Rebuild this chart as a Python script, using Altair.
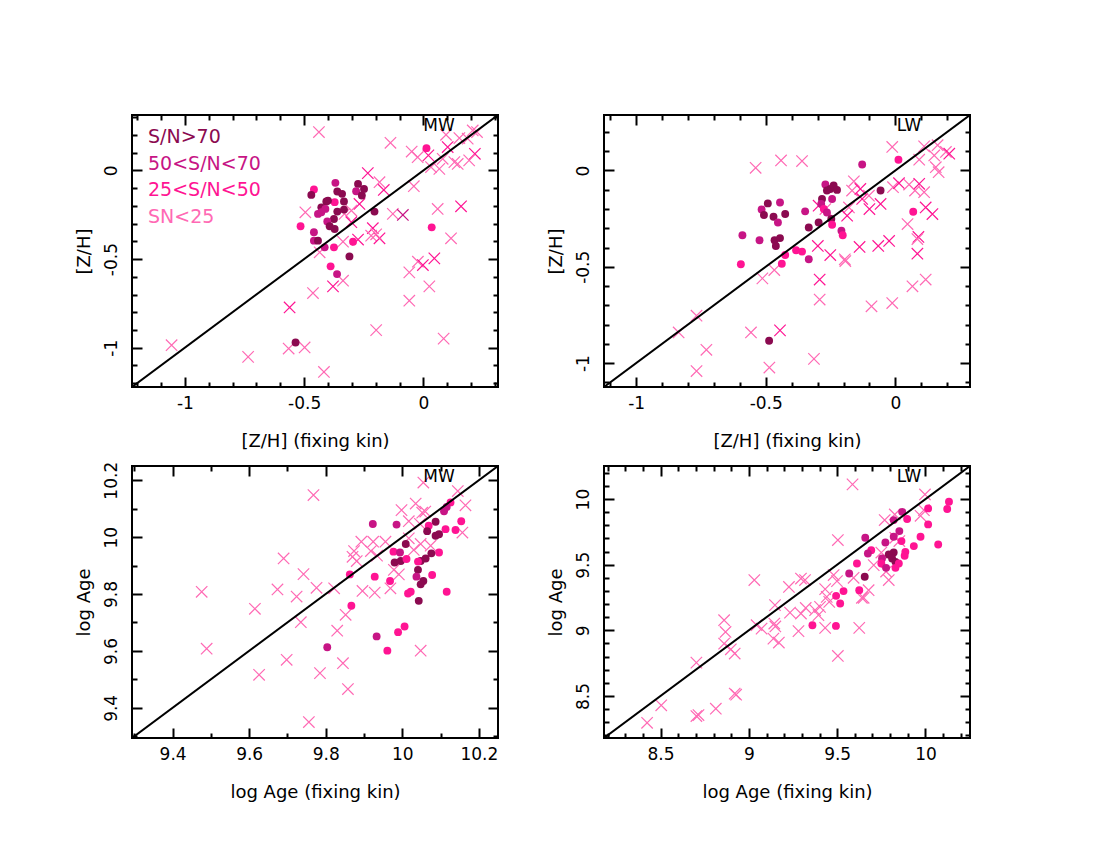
import altair as alt
import pandas as pd

FONT = "DejaVu Sans"
CATS = ["S/N>70", "50<S/N<70", "25<S/N<50", "SN<25"]
COLORS = ["#8B0A50", "#C71585", "#FF1493", "#FF69B4"]

# ---------------- Top-left: [Z/H] MW ----------------
tl_dot_x = [-0.459, -0.470, -0.407, -0.428, -0.515, -0.442, -0.459, -0.459, -0.442, -0.414,
            -0.369, -0.361, -0.341, -0.372, -0.333, -0.400, -0.411, -0.361, -0.333, -0.375,
            -0.403, -0.393, -0.372, -0.428, -0.274, -0.282, -0.249, -0.258, -0.205, -0.295,
            -0.375, -0.310, 0.035, 0.013, -0.389, -0.362, -0.536]
tl_dot_y = [-0.107, -0.138, -0.175, -0.208, -0.315, -0.245, -0.349, -0.396, -0.396, -0.434,
            -0.070, -0.119, -0.132, -0.179, -0.175, -0.170, -0.217, -0.232, -0.221, -0.274,
            -0.288, -0.315, -0.330, -0.236, -0.076, -0.117, -0.104, -0.141, -0.232, -0.402,
            -0.434, -0.485, -0.321, 0.126, -0.541, -0.585, -0.971]
tl_dot_sn = [2, 0, 0, 0, 2, 1, 1, 1, 0, 1,
             1, 0, 0, 2, 0, 0, 1, 0, 0, 0,
             1, 0, 0, 1, 0, 1, 0, 0, 0, 2,
             2, 0, 2, 2, 2, 1, 0]
tl_x_x = [-0.438, -0.495, -0.138, 0.095, 0.151, 0.207, 0.186, 0.225, 0.216, 0.192,
          0.102, 0.144, 0.130, 0.021, -0.049, -0.024, 0.032, 0.067, 0.081, -0.233,
          -0.184, -0.166, -0.040, -0.268, -0.302, -0.331, -0.128, -0.086, 0.060, 0.158,
          -0.212, -0.219, -0.184, -0.198, -0.337, -0.274, -0.302, 0.116, 0.046, -0.023,
          -0.435, -0.379, -0.337, -0.463, -0.561, -0.059, -0.002, 0.025, -0.059, -0.198,
          0.085, -1.056, -0.565, -0.498, -0.735, -0.417]
tl_x_y = [0.217, -0.236, 0.156, 0.201, 0.183, 0.226, 0.179, 0.217, 0.094, 0.057,
          0.132, 0.037, 0.047, 0.085, 0.107, 0.075, 0.019, 0.009, 0.066, -0.015,
          -0.066, -0.110, -0.089, -0.189, -0.226, -0.245, -0.245, -0.251, -0.217, -0.202,
          -0.326, -0.368, -0.383, -0.360, -0.402, -0.390, -0.292, -0.383, -0.496, -0.515,
          -0.462, -0.654, -0.622, -0.692, -0.773, -0.575, -0.534, -0.654, -0.735, -0.901,
          -0.949, -0.986, -1.005, -0.999, -1.052, -1.137]
tl_x_sn = [3, 3, 3, 3, 3, 3, 3, 3, 2, 3,
           2, 3, 3, 2, 3, 3, 3, 3, 3, 2,
           3, 2, 3, 2, 3, 3, 3, 1, 3, 2,
           2, 3, 2, 3, 3, 2, 2, 3, 2, 3,
           3, 2, 3, 3, 2, 3, 2, 3, 3, 3,
           3, 3, 3, 3, 3, 3]

# ---------------- Top-right: [Z/H] LW ----------------
tr_dot_x = [-0.492, -0.445, -0.516, -0.507, -0.470, -0.425, -0.453, -0.590, -0.524, -0.466,
            -0.445, -0.461, -0.425, -0.383, -0.360, -0.334, -0.128, 0.012, -0.270, -0.251,
            -0.238, -0.225, -0.264, -0.283, -0.244, -0.286, -0.276, -0.264, -0.348, -0.247,
            -0.296, -0.334, -0.244, -0.208, -0.203, -0.057, 0.069, -0.596, -0.438, -0.487]
tr_dot_y = [-0.171, -0.166, -0.202, -0.231, -0.240, -0.226, -0.270, -0.336, -0.362, -0.362,
            -0.351, -0.392, -0.439, -0.414, -0.421, -0.461, 0.031, 0.056, -0.073, -0.096,
            -0.078, -0.101, -0.104, -0.148, -0.148, -0.174, -0.200, -0.218, -0.212, -0.252,
            -0.270, -0.296, -0.282, -0.313, -0.336, -0.104, -0.214, -0.487, -0.484, -0.884]
tr_dot_sn = [0, 1, 1, 0, 0, 0, 1, 1, 1, 0,
             0, 0, 2, 2, 2, 1, 1, 2, 1, 0,
             0, 0, 0, 0, 1, 1, 2, 1, 1, 0,
             0, 0, 2, 1, 2, 0, 2, 2, 2, 0]
tr_x_x = [-0.539, -0.441, -0.360, -0.012, 0.092, 0.111, 0.163, 0.150, 0.195, 0.208,
          0.156, 0.167, -0.160, -0.167, -0.135, -0.296, -0.270, -0.179, -0.186, -0.128,
          -0.102, -0.100, -0.057, -0.009, 0.014, 0.053, 0.092, 0.111, 0.076, 0.117,
          0.143, 0.047, 0.089, 0.085, 0.085, -0.024, -0.066, -0.138, -0.251, -0.299,
          -0.195, -0.513, -0.467, -0.292, -0.193, -0.292, -0.092, -0.012, 0.066, 0.117,
          -0.767, -0.836, -0.729, -0.767, -0.557, -0.445, -0.486, -0.314]
tr_x_y = [0.014, 0.052, 0.049, 0.122, 0.056, 0.125, 0.131, 0.078, 0.096, 0.087,
          0.017, -0.009, -0.056, -0.104, -0.096, -0.183, -0.200, -0.192, -0.235, -0.148,
          -0.131, -0.200, -0.174, -0.087, -0.066, -0.073, -0.069, -0.113, -0.104, -0.192,
          -0.226, -0.278, -0.345, -0.356, -0.432, -0.366, -0.392, -0.397, -0.439, -0.392,
          -0.461, -0.560, -0.517, -0.566, -0.470, -0.670, -0.705, -0.688, -0.601, -0.566,
          -0.754, -0.841, -0.931, -1.041, -0.841, -0.830, -1.023, -0.978]
tr_x_sn = [3, 3, 3, 3, 3, 3, 3, 3, 3, 2,
           3, 3, 3, 3, 2, 2, 3, 3, 2, 2,
           3, 2, 2, 3, 2, 3, 2, 3, 3, 2,
           2, 3, 2, 3, 2, 2, 2, 2, 2, 2,
           3, 3, 3, 2, 3, 3, 3, 3, 3, 3,
           3, 3, 3, 3, 3, 2, 3, 3]

# ---------------- Bottom-left: log Age MW ----------------
bl_dot_x = [10.126, 10.116, 10.109, 10.154, 10.139, 10.113, 10.087, 10.069, 10.065, 10.087,
            10.096, 9.985, 9.923, 10.009, 9.977, 9.994, 10.096, 10.076, 10.061, 10.048,
            10.041, 9.980, 9.996, 10.011, 10.041, 10.037, 10.055, 10.048, 10.078, 9.968,
            9.928, 9.863, 10.022, 10.015, 10.116, 10.043, 9.867, 9.804, 9.933, 9.961,
            9.989, 10.006]
bl_dot_y = [10.122, 10.106, 10.091, 10.056, 10.025, 10.028, 10.054, 10.040, 10.021, 10.005,
            10.010, 10.044, 10.046, 9.976, 9.949, 9.946, 9.946, 9.943, 9.925, 9.916,
            9.914, 9.911, 9.916, 9.923, 9.885, 9.861, 9.846, 9.834, 9.867, 9.846,
            9.861, 9.869, 9.808, 9.802, 9.808, 9.776, 9.759, 9.613, 9.651, 9.601,
            9.666, 9.686]
bl_dot_sn = [2, 1, 1, 2, 2, 2, 0, 2, 0, 0,
             0, 1, 1, 0, 2, 1, 2, 0, 0, 0,
             2, 0, 0, 2, 0, 1, 0, 0, 2, 2,
             2, 2, 2, 2, 2, 0, 2, 1, 1, 2,
             2, 2]
bl_x_x = [9.768, 9.690, 9.742, 9.776, 9.674, 9.724, 9.476, 10.055, 10.145, 10.165,
          10.157, 10.035, 9.998, 10.052, 10.060, 10.017, 10.046, 9.893, 9.924, 9.956,
          9.874, 9.918, 9.870, 9.881, 9.934, 10.017, 10.030, 10.048, 9.978, 9.991,
          9.822, 9.896, 9.969, 10.074, 9.615, 9.489, 9.626, 9.698, 9.735, 9.785,
          9.830, 9.845, 9.858, 9.852, 9.756, 10.048, 9.928]
bl_x_y = [10.148, 9.925, 9.870, 9.822, 9.816, 9.791, 9.808, 10.192, 10.162, 10.112,
          10.016, 10.118, 10.095, 10.086, 10.090, 10.056, 10.047, 9.984, 9.984, 9.984,
          9.951, 9.951, 9.931, 9.916, 9.935, 9.996, 9.955, 9.976, 9.885, 9.869,
          9.820, 9.811, 9.820, 9.970, 9.748, 9.608, 9.516, 9.569, 9.701, 9.522,
          9.671, 9.557, 9.466, 9.727, 9.350, 9.601, 9.805]
bl_x_sn = [3] * len(bl_x_x)

# ---------------- Bottom-right: log Age LW ----------------
br_dot_x = [9.868, 10.015, 10.133, 10.123, 9.896, 9.820, 10.015, 9.852, 9.820, 9.864,
            9.972, 9.934, 10.072, 9.659, 9.773, 9.693, 9.674, 9.820, 9.792, 9.811,
            9.754, 9.886, 9.882, 9.830, 9.750, 9.777, 9.849, 9.830, 9.612, 9.568,
            9.656, 9.625, 9.536, 9.494, 9.517, 9.360, 9.493]
br_dot_y = [9.903, 9.929, 9.980, 9.924, 9.848, 9.840, 9.807, 9.756, 9.713, 9.680,
            9.713, 9.642, 9.654, 9.705, 9.669, 9.611, 9.585, 9.593, 9.578, 9.547,
            9.547, 9.598, 9.568, 9.522, 9.509, 9.476, 9.509, 9.476, 9.509, 9.433,
            9.408, 9.306, 9.299, 9.263, 9.205, 9.039, 9.034]
br_dot_sn = [1, 2, 2, 2, 2, 1, 2, 1, 1, 2,
             2, 2, 2, 1, 1, 2, 1, 0, 0, 0,
             1, 2, 2, 0, 2, 1, 2, 2, 2, 1,
             0, 2, 2, 2, 2, 2, 2]
br_x_x = [9.031, 9.227, 9.295, 9.587, 9.997, 9.504, 9.769, 9.826, 9.972, 9.991,
          9.829, 9.852, 9.707, 9.750, 9.792, 9.777, 9.593, 9.480, 9.499, 9.678,
          9.640, 9.432, 9.318, 9.441, 8.424, 8.504, 8.703, 8.715, 8.813, 8.920,
          8.928, 8.703, 8.860, 8.868, 8.860, 8.898, 8.920, 9.044, 9.072, 9.144,
          9.150, 9.139, 9.170, 9.148, 9.233, 9.295, 9.322, 9.375, 9.403, 9.394,
          9.281, 9.432, 9.455, 9.504, 9.625, 9.650]
br_x_y = [9.383, 9.331, 9.395, 10.112, 10.035, 9.688, 9.840, 9.883, 9.873, 9.916,
          9.705, 9.680, 9.497, 9.593, 9.383, 9.448, 9.400, 9.421, 9.375, 9.306,
          9.248, 9.314, 9.383, 9.255, 8.296, 8.429, 8.347, 8.355, 8.403, 8.518,
          8.510, 8.754, 9.077, 8.988, 8.899, 8.856, 8.823, 9.039, 9.013, 9.052,
          9.030, 8.937, 8.907, 9.192, 9.135, 9.128, 9.171, 9.154, 9.179, 9.116,
          8.994, 9.019, 9.217, 8.805, 9.019, 9.248]
br_x_sn = [3] * len(br_x_x)

# axis domains and tick values
zh_tl_dom = [-1.222, 0.313]
zh_tr_dom = [-1.124, 0.288]
age_bl_dom = [9.294, 10.250]
age_br_dom = [8.180, 10.252]
zh_major = [-1, -0.5, 0]
zh_minor_tl = [-1.2, -1.1, -0.9, -0.8, -0.7, -0.6, -0.4, -0.3, -0.2, -0.1, 0.1, 0.2, 0.3]
zh_minor_tr = [-1.1, -0.9, -0.8, -0.7, -0.6, -0.4, -0.3, -0.2, -0.1, 0.1, 0.2]
age_major_bl = [9.4, 9.6, 9.8, 10, 10.2]
age_minor_bl = [9.3, 9.5, 9.7, 9.9, 10.1]
age_major_br = [8.5, 9, 9.5, 10]
age_minor_br = [8.2, 8.3, 8.4, 8.6, 8.7, 8.8, 8.9, 9.1, 9.2, 9.3, 9.4, 9.6, 9.7, 9.8, 9.9, 10.1, 10.2]

W, H = 366, 272
XMARK = "M-1,-1L1,1M-1,1L1,-1"
LABEL_EXPR = "replace(datum.label, '\u2212', '-')"


def sc(dom):
    return alt.Scale(domain=dom, nice=False, zero=False)


def lab_axis(orient, values, title):
    kw = dict(orient=orient, values=values, title=title, ticks=False, tickSize=0,
              domain=False, grid=False, format="~g", labelExpr=LABEL_EXPR,
              labelFont=FONT, labelFontSize=17, labelColor="black",
              labelFlush=False, labelOverlap=False,
              titleFont=FONT, titleFontSize=18, titleFontWeight="normal", titleColor="black")
    if orient == "left":
        kw.update(labelAngle=270, labelAlign="center", labelBaseline="bottom",
                  labelPadding=12, titlePadding=9)
    else:
        kw.update(labelPadding=8, titlePadding=21)
    return alt.Axis(**kw)


def tick_axis(orient, values, size):
    return alt.Axis(orient=orient, values=values, labels=False, ticks=True,
                    tickSize=size, tickWidth=2, tickColor="black",
                    domain=False, grid=False, offset=-size, title=None)


color = alt.Color("sn:N", scale=alt.Scale(domain=CATS, range=COLORS), legend=None)


def panel(dx, dy, dsn, xx, xy, xsn, dom, major, minor, xtitle, ytitle, tag, tag_x, legend=False):
    dots = pd.DataFrame({"x": dx, "y": dy, "sn": [CATS[i] for i in dsn]})
    crosses = pd.DataFrame({"x": xx, "y": xy, "sn": [CATS[i] for i in xsn]})
    diag = pd.DataFrame({"x": dom, "y": dom})

    def enc(ax_x, ax_y):
        return dict(x=alt.X("x:Q", scale=sc(dom), axis=ax_x),
                    y=alt.Y("y:Q", scale=sc(dom), axis=ax_y))

    l_cross = alt.Chart(crosses).mark_point(
        shape=XMARK, filled=False, strokeWidth=1.2, size=130, opacity=1
    ).encode(color=color, **enc(tick_axis("bottom", major, 10), tick_axis("left", major, 10)))
    l_dots = alt.Chart(dots).mark_circle(size=62, opacity=1).encode(
        color=color, **enc(tick_axis("bottom", minor, 5), tick_axis("left", minor, 5)))
    l_line = alt.Chart(diag).mark_line(color="black", strokeWidth=2, clip=True).encode(
        **enc(lab_axis("bottom", major, xtitle), lab_axis("left", major, ytitle)))
    l_top_major = alt.Chart(diag).mark_line(strokeOpacity=0).encode(
        **enc(tick_axis("top", major, 10), tick_axis("right", major, 10)))
    l_top_minor = alt.Chart(diag).mark_line(strokeOpacity=0).encode(
        **enc(tick_axis("top", minor, 5), tick_axis("right", minor, 5)))
    l_tag = alt.Chart(pd.DataFrame({"t": [tag]})).mark_text(
        font=FONT, fontSize=17, align="center", baseline="middle", color="black"
    ).encode(x=alt.value(tag_x), y=alt.value(11), text="t:N")
    layers = [l_cross, l_dots, l_line, l_top_major, l_top_minor, l_tag]
    if legend:
        leg = alt.Chart(pd.DataFrame({"sn": CATS})).mark_text(
            font=FONT, fontSize=19, align="left", baseline="middle"
        ).encode(
            x=alt.value(16),
            y=alt.Y("sn:N", axis=None,
                    scale=alt.Scale(type="point", domain=CATS, range=[22, 102], padding=0)),
            text="sn:N", color=color)
        layers.append(leg)
    return alt.layer(*layers).resolve_scale(x="independent", y="independent").properties(
        width=W, height=H)


tl = panel(tl_dot_x, tl_dot_y, tl_dot_sn, tl_x_x, tl_x_y, tl_x_sn, zh_tl_dom, zh_major, zh_minor_tl,
           "[Z/H] (fixing kin)", "[Z/H]", "MW", 307, legend=True)
tr = panel(tr_dot_x, tr_dot_y, tr_dot_sn, tr_x_x, tr_x_y, tr_x_sn, zh_tr_dom, zh_major, zh_minor_tr,
           "[Z/H] (fixing kin)", "[Z/H]", "LW", 305)
bl = panel(bl_dot_x, bl_dot_y, bl_dot_sn, bl_x_x, bl_x_y, bl_x_sn, age_bl_dom, age_major_bl, age_minor_bl,
           "log Age (fixing kin)", "log Age", "MW", 307)
br = panel(br_dot_x, br_dot_y, br_dot_sn, br_x_x, br_x_y, br_x_sn, age_br_dom, age_major_br, age_minor_br,
           "log Age (fixing kin)", "log Age", "LW", 305)

chart = alt.concat(
    tl, tr, bl, br, columns=2, spacing={"row": 79, "column": 106}, bounds="flush"
).properties(
    padding={"left": 66, "top": 105, "right": 10, "bottom": 10},
    background="white",
).configure_view(stroke="black", strokeWidth=2)

chart.save("out.html", embed_options={"renderer": "svg", "actions": False})
